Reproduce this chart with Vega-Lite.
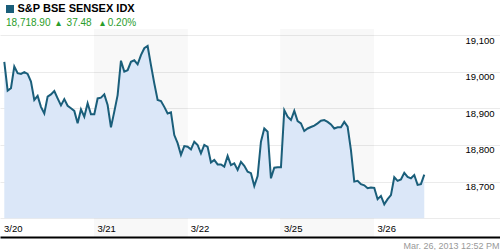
{
  "$schema": "https://vega.github.io/schema/vega-lite/v6.json",
  "width": 500,
  "height": 208,
  "autosize": "none",
  "padding": {"left": 0, "right": 0, "top": 29, "bottom": 13},
  "background": "white",
  "config": {"view": {"stroke": null}, "font": "Liberation Sans"},
  "title": {
    "text": "18,718.90\u00a0\u00a0▴\u00a0\u00a037.48\u00a0\u00a0\u00a0▴\u00a00.20%",
    "anchor": "start",
    "frame": "group",
    "color": "#2a9d2a",
    "fontSize": 10,
    "fontWeight": "normal",
    "baseline": "alphabetic",
    "offset": 5,
    "dx": 6,
    "dy": 37.5
  },
  "datasets": {
    "prices": [
      {"i":0,"v":19027},{"i":1,"v":18948},{"i":2,"v":18955},{"i":3,"v":19014},{"i":4,"v":18996},{"i":5,"v":18994},{"i":6,"v":18999},{"i":7,"v":18994},{"i":8,"v":18973},{"i":9,"v":18923},
      {"i":10,"v":18934},{"i":11,"v":18904},{"i":12,"v":18886},{"i":13,"v":18932},{"i":14,"v":18938},{"i":15,"v":18947},{"i":16,"v":18927},{"i":17,"v":18908},{"i":18,"v":18925},{"i":19,"v":18907},
      {"i":20,"v":18900},{"i":21,"v":18893},{"i":22,"v":18859},{"i":23,"v":18897},{"i":24,"v":18877},{"i":25,"v":18914},{"i":26,"v":18884},{"i":27,"v":18884},{"i":28,"v":18927},{"i":29,"v":18929},
      {"i":30,"v":18938},{"i":31,"v":18909},{"i":32,"v":18848},{"i":33,"v":18891},{"i":34,"v":18936},{"i":35,"v":19030},{"i":36,"v":19000},{"i":37,"v":19004},{"i":38,"v":19027},{"i":39,"v":19031},
      {"i":40,"v":19020},{"i":41,"v":19045},{"i":42,"v":19064},{"i":43,"v":19070},{"i":44,"v":19018},{"i":45,"v":18968},{"i":46,"v":18923},{"i":47,"v":18920},{"i":48,"v":18904},{"i":49,"v":18886},
      {"i":50,"v":18889},{"i":51,"v":18827},{"i":52,"v":18805},{"i":53,"v":18773},{"i":54,"v":18797},{"i":55,"v":18795},{"i":56,"v":18788},{"i":57,"v":18809},{"i":58,"v":18800},{"i":59,"v":18777},
      {"i":60,"v":18800},{"i":61,"v":18795},{"i":62,"v":18752},{"i":63,"v":18759},{"i":64,"v":18747},{"i":65,"v":18747},{"i":66,"v":18741},{"i":67,"v":18770},{"i":68,"v":18745},{"i":69,"v":18750},
      {"i":70,"v":18732},{"i":71,"v":18754},{"i":72,"v":18743},{"i":73,"v":18727},{"i":74,"v":18723},{"i":75,"v":18688},{"i":76,"v":18715},{"i":77,"v":18809},{"i":78,"v":18845},{"i":79,"v":18836},
      {"i":80,"v":18709},{"i":81,"v":18738},{"i":82,"v":18739},{"i":83,"v":18739},{"i":84,"v":18895},{"i":85,"v":18877},{"i":86,"v":18868},{"i":87,"v":18893},{"i":88,"v":18865},{"i":89,"v":18859},
      {"i":90,"v":18838},{"i":91,"v":18845},{"i":92,"v":18849},{"i":93,"v":18853},{"i":94,"v":18859},{"i":95,"v":18866},{"i":96,"v":18868},{"i":97,"v":18863},{"i":98,"v":18856},{"i":99,"v":18845},
      {"i":100,"v":18848},{"i":101,"v":18848},{"i":102,"v":18863},{"i":103,"v":18850},{"i":104,"v":18786},{"i":105,"v":18700},{"i":106,"v":18702},{"i":107,"v":18693},{"i":108,"v":18690},{"i":109,"v":18682},
      {"i":110,"v":18684},{"i":111,"v":18683},{"i":112,"v":18652},{"i":113,"v":18661},{"i":114,"v":18638},{"i":115,"v":18652},{"i":116,"v":18663},{"i":117,"v":18712},{"i":118,"v":18702},{"i":119,"v":18706},
      {"i":120,"v":18724},{"i":121,"v":18713},{"i":122,"v":18709},{"i":123,"v":18718},{"i":124,"v":18691},{"i":125,"v":18693},{"i":126,"v":18719}
    ],
    "days": [
      {"day":"3/20","start":-1.14,"end":26.91,"shaded":false},
      {"day":"3/21","start":26.91,"end":55.11,"shaded":true},
      {"day":"3/22","start":55.11,"end":82.72,"shaded":false},
      {"day":"3/25","start":82.72,"end":110.92,"shaded":true},
      {"day":"3/26","start":110.92,"end":138.9,"shaded":false}
    ]
  },
  "layer": [
    {
      "data": {"name": "days"},
      "transform": [{"filter": "datum.shaded"}],
      "mark": {"type": "rect", "fill": "#000000", "opacity": 0.028},
      "encoding": {
        "x": {
          "field": "start", "type": "quantitative",
          "scale": {"domain": [-1.29, 148.72], "nice": false, "zero": false},
          "axis": {
            "values": [-1.14, 26.88, 54.9, 82.85, 110.9],
            "labelExpr": "datum.value < 10 ? '3/20' : datum.value < 40 ? '3/21' : datum.value < 70 ? '3/22' : datum.value < 95 ? '3/25' : '3/26'",
            "labelAlign": "left", "labelOffset": 3, "labelBaseline": "alphabetic", "labelPadding": -6,
            "labelFlush": false, "labelOverlap": false, "labelBound": false,
            "ticks": false, "tickSize": 0, "grid": false,
            "domainColor": "#000000", "domainWidth": 2,
            "labelColor": "#000000", "labelFontSize": 9.5,
            "title": "Mar. 26, 2013 12:52 PM",
            "titleAnchor": "end", "titleAlign": "right", "titleX": 499, "titleY": 11, "titleBaseline": "alphabetic",
            "titleColor": "#999999", "titleFontSize": 9, "titleFontWeight": "normal"
          }
        },
        "x2": {"field": "end"}
      }
    },
    {
      "data": {"name": "prices"},
      "mark": {"type": "area", "fill": "#dbe7f8"},
      "encoding": {
        "x": {"field": "i", "type": "quantitative"},
        "y": {
          "field": "v", "type": "quantitative",
          "scale": {"domain": [18548.9, 19116.4], "nice": false, "zero": false},
          "axis": {
            "orient": "right",
            "values": [18600, 18700, 18800, 18900, 19000, 19100],
            "labelExpr": "datum.value == 18600 ? '' : format(datum.value, ',')",
            "labelAlign": "right", "labelBaseline": "top", "labelPadding": -6,
            "ticks": false, "tickSize": 0, "domain": false,
            "grid": true, "gridColor": "#ebebeb",
            "labelColor": "#000000", "labelFontSize": 9.5,
            "title": null
          }
        },
        "y2": {"datum": 18600}
      }
    },
    {
      "data": {"name": "prices"},
      "mark": {"type": "line", "strokeWidth": 2},
      "encoding": {
        "x": {"field": "i", "type": "quantitative"},
        "y": {"field": "v", "type": "quantitative"},
        "color": {
          "datum": "S&P BSE SENSEX IDX",
          "scale": {"range": ["#1a5e7a"]},
          "legend": {
            "orient": "none", "legendX": 4.5, "legendY": -25.5,
            "title": null, "padding": 0,
            "symbolType": "square", "symbolSize": 64, "symbolStrokeWidth": 0,
            "symbolFillColor": "#1a5e7a",
            "labelFontSize": 11, "labelFontWeight": "bold", "labelColor": "#000000", "labelOffset": 2,
            "encode": {"symbols": {"update": {"fill": {"value": "#1a5e7a"}, "shape": {"value": "square"}, "strokeWidth": {"value": 0}}}}
          }
        }
      }
    }
  ]
}
